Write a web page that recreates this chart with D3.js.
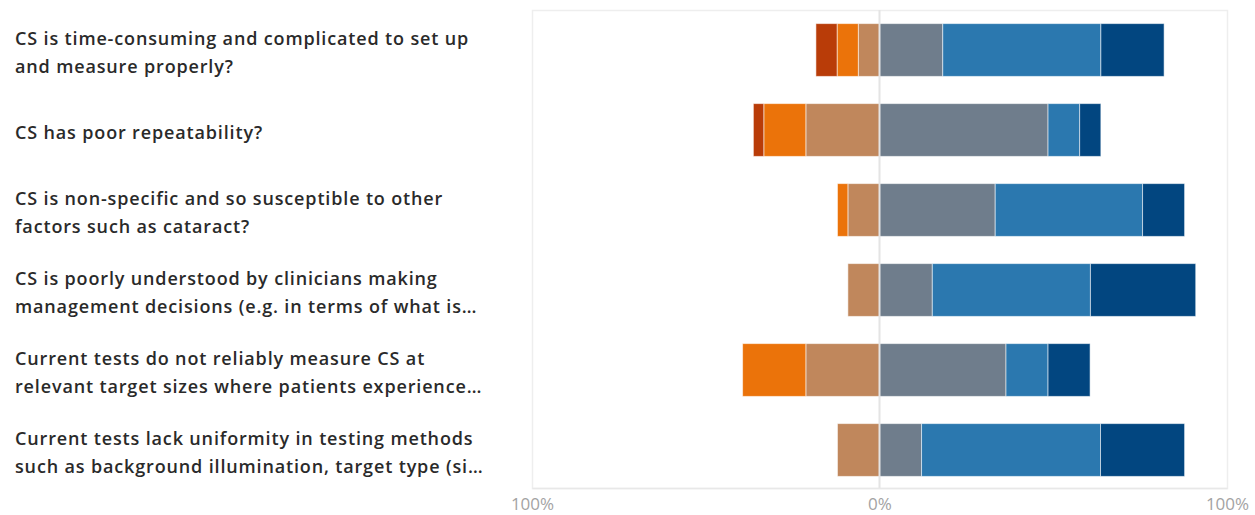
<!DOCTYPE html>
<html>
<head>
<meta charset="utf-8">
<script src="https://cdn.jsdelivr.net/npm/d3@7"></script>
<style>
  html, body { margin: 0; padding: 0; background: #fff; }
  svg { display: block; }
</style>
</head>
<body>
<svg id="chart" width="1255" height="515"></svg>
<script>
// Survey statements (each entry is the wrapped lines of the label)
const categories = [
  ["CS is time-consuming and complicated to set up", "and measure properly?"],
  ["CS has poor repeatability?"],
  ["CS is non-specific and so susceptible to other", "factors such as cataract?"],
  ["CS is poorly understood by clinicians making", "management decisions (e.g. in terms of what is\u2026"],
  ["Current tests do not reliably measure CS at", "relevant target sizes where patients experience\u2026"],
  ["Current tests lack uniformity in testing methods", "such as background illumination, target type (si\u2026"]
];

// Share of responses (%) per answer level, one value per statement
const stronglyDisagree = [6.1, 3.0, 0, 0, 0, 0];
const disagree         = [6.1, 12.1, 3.0, 0, 18.2, 0];
const somewhatDisagree = [6.1, 21.2, 9.1, 9.1, 21.2, 12.1];
const neutral          = [18.2, 48.5, 33.3, 15.2, 36.4, 12.1];
const agree            = [45.5, 9.1, 42.4, 45.5, 12.1, 51.5];
const stronglyAgree    = [18.2, 6.1, 12.1, 30.3, 12.1, 24.2];

const tickValues = [-100, 0, 100];
const tickLabels = ["100%", "0%", "100%"];

// Negative side stacks outward from the centre line, positive side likewise
const negativeSeries = [
  { key: "somewhatDisagree", values: somewhatDisagree, color: "#c0875c" },
  { key: "disagree",         values: disagree,         color: "#eb730a" },
  { key: "stronglyDisagree", values: stronglyDisagree, color: "#b93c08" }
];
const positiveSeries = [
  { key: "neutral",       values: neutral,       color: "#6f7d8c" },
  { key: "agree",         values: agree,         color: "#2b78af" },
  { key: "stronglyAgree", values: stronglyAgree, color: "#024680" }
];

const svg = d3.select("#chart");
const plot = { left: 532, right: 1227, top: 10, bottom: 490 };

const x = d3.scaleLinear().domain([-100, 100]).range([plot.left, plot.right]);
const y = d3.scaleBand()
  .domain(d3.range(categories.length))
  .range([plot.top, plot.bottom])
  .paddingInner(0.34)
  .paddingOuter(0.17);

// Plot frame
svg.append("rect")
  .attr("x", plot.left + 0.5).attr("y", plot.top + 0.5)
  .attr("width", plot.right - plot.left).attr("height", plot.bottom - 2 - plot.top)
  .attr("fill", "none").attr("stroke", "#eeeeee").attr("stroke-width", 1.5);

// Build segments: cumulative offsets from zero
const segments = [];
categories.forEach((c, i) => {
  let acc = 0;
  negativeSeries.forEach(s => {
    const v = s.values[i];
    if (v > 0) segments.push({ i, x0: -(acc + v), x1: -acc, color: s.color });
    acc += v;
  });
  acc = 0;
  positiveSeries.forEach(s => {
    const v = s.values[i];
    if (v > 0) segments.push({ i, x0: acc, x1: acc + v, color: s.color });
    acc += v;
  });
});

svg.append("g")
  .selectAll("rect")
  .data(segments)
  .join("rect")
  .attr("x", d => x(d.x0))
  .attr("y", d => y(d.i))
  .attr("width", d => x(d.x1) - x(d.x0))
  .attr("height", y.bandwidth())
  .attr("fill", d => d.color)
  .attr("stroke", "#ffffff")
  .attr("stroke-opacity", 0.55)
  .attr("stroke-width", 1);

// Centre line at 0%
svg.append("line")
  .attr("x1", x(0)).attr("x2", x(0))
  .attr("y1", plot.top).attr("y2", plot.bottom - 2)
  .attr("stroke", "#e4e4e4").attr("stroke-width", 2);

// Bottom axis
const axis = svg.append("g")
  .attr("transform", `translate(0,${plot.bottom - 2})`)
  .call(d3.axisBottom(x).tickValues(tickValues)
    .tickFormat((d, k) => tickLabels[k]).tickSize(0).tickPadding(10));
axis.select(".domain").attr("stroke", "#e8e8e8").attr("stroke-width", 1.5);
axis.selectAll("text")
  .attr("fill", "#a3a3a3")
  .style("font-family", "'Open Sans', sans-serif")
  .style("font-size", "17px");

// Statement labels
const lineHeight = 27.5;
const labels = svg.append("g");
categories.forEach((lines, i) => {
  const cy = y(i) + y.bandwidth() / 2 + 2;
  const t = labels.append("text")
    .attr("x", 15)
    .attr("y", cy - (lines.length - 1) * lineHeight / 2)
    .attr("dominant-baseline", "central")
    .attr("fill", "#2a2a2a")
    .style("font-family", "'Open Sans', sans-serif")
    .style("font-weight", 600)
    .style("font-size", "18px")
    .style("letter-spacing", "0.85px");
  lines.forEach((ln, k) => {
    t.append("tspan").attr("x", 15).attr("dy", k === 0 ? 0 : lineHeight).text(ln);
  });
});
</script>
</body>
</html>
